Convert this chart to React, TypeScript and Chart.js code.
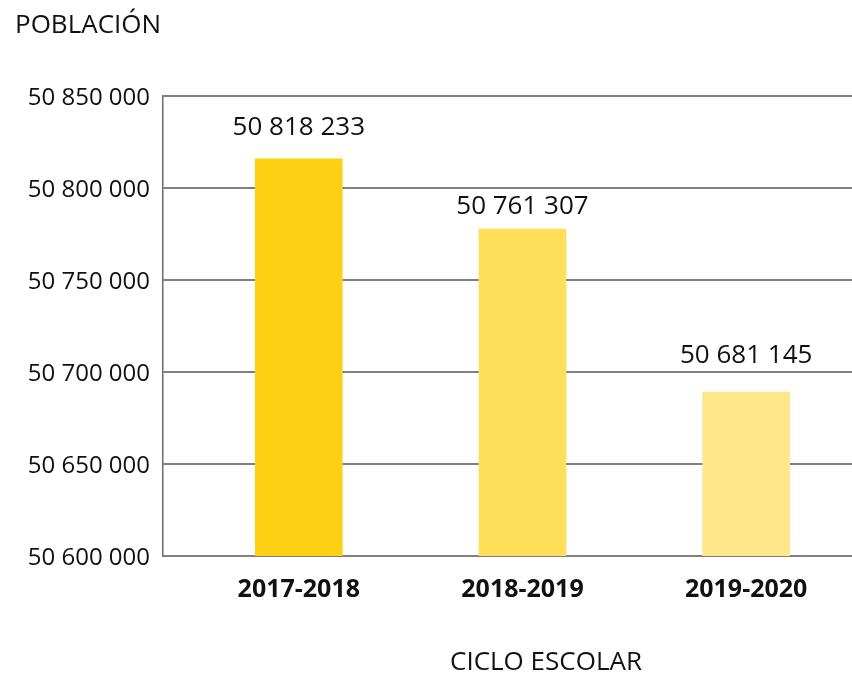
import React, { useEffect, useRef } from "react";
import { Chart, registerables } from "chart.js";

Chart.register(...registerables);

// ---- data ----
const categories = ["2017-2018", "2018-2019", "2019-2020"];
const barValues = [50815800, 50777700, 50689100];
const valueLabels = ["50 818 233", "50 761 307", "50 681 145"];
const yTicksMin = 50600000;
const yTicksMax = 50850000;
const yTickStep = 50000;
const yTitle = "POBLACIÓN";
const xTitle = "CICLO ESCOLAR";

// ---- styles ----
const barColors = ["#FED014", "#FFDE59", "#FFE78A"];
const labelGaps = [31, 22, 36];
const FONT = "'Open Sans', 'Noto Sans', sans-serif";

const fmt = (v: number) => String(v).replace(/\B(?=(\d{3})+(?!\d))/g, " ");

const textPlugin = {
  id: "texts",
  afterDatasetsDraw(chart: any) {
    const ctx = chart.ctx;
    ctx.save();
    ctx.fillStyle = "#111";
    // value labels above bars
    ctx.font = `26px ${FONT}`;
    ctx.textAlign = "center";
    ctx.textBaseline = "middle";
    const meta = chart.getDatasetMeta(0);
    meta.data.forEach((bar: any, i: number) => {
      ctx.fillText(valueLabels[i], bar.x, bar.y - labelGaps[i]);
    });
    // y title
    ctx.font = `26px ${FONT}`;
    ctx.textAlign = "left";
    ctx.textBaseline = "alphabetic";
    ctx.fillText(yTitle, 15, 33);
    // x title
    ctx.font = `26px ${FONT}`;
    ctx.textAlign = "center";
    ctx.fillText(xTitle, 546, 670);
    ctx.restore();
  },
};

export default function App() {
  const ref = useRef<HTMLCanvasElement | null>(null);
  useEffect(() => {
    if (!ref.current) return;
    const chart = new Chart(ref.current, {
      type: "bar",
      data: {
        datasets: [
          {
            data: barValues.map((v, i) => ({ x: i, y: v })),
            backgroundColor: barColors,
            barThickness: 87,
            borderWidth: 0,
          },
        ],
      },
      plugins: [textPlugin],
      options: {
        animation: false,
        responsive: true,
        maintainAspectRatio: false,
        layout: { padding: { top: 96, right: 0, bottom: 0, left: 0 } },
        plugins: { legend: { display: false }, tooltip: { enabled: false } },
        scales: {
          x: {
            type: "linear",
            offset: false,
            min: -0.607,
            max: 2.473,
            afterBuildTicks: (scale: any) => {
              scale.ticks = categories.map((_, i) => ({ value: i }));
            },
            afterFit: (scale: any) => {
              scale.height = 118;
            },
            grid: { display: false, drawTicks: false, offset: false },
            border: { display: true, color: "#808080", width: 2 },
            ticks: {
              padding: 19,
              color: "#111",
              font: { family: FONT, size: 25, weight: "bold" },
              callback: (v: any) => categories[v] ?? "",
            },
          },
          y: {
            min: yTicksMin,
            max: yTicksMax,
            afterFit: (scale: any) => {
              scale.width = 163;
            },
            grid: { color: "#808080", lineWidth: 2, drawTicks: false },
            border: { display: true, color: "#6b6b6b", width: 1.5 },
            ticks: {
              stepSize: yTickStep,
              padding: 13,
              labelOffset: 2,
              color: "#111",
              font: { family: FONT, size: 24 },
              callback: (v: any) => fmt(Number(v)),
            },
          },
        },
      },
    } as any);
    return () => chart.destroy();
  }, []);
  return (
    <div style={{ position: "fixed", left: 0, top: 0, width: 852, height: 674, background: "#fff" }}>
      <canvas ref={ref} />
    </div>
  );
}
